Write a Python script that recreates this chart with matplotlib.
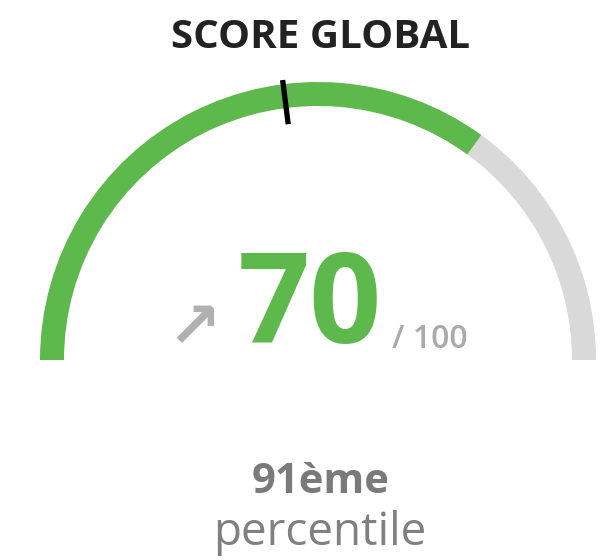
import matplotlib
matplotlib.use("Agg")
import matplotlib.pyplot as plt
from matplotlib.patches import Wedge
import numpy as np

# Data
score = 70
score_max = 100
benchmark = 46
percentile_rank = "91ème"
title = "SCORE GLOBAL"

GREEN = "#5DB94B"
GREY_ARC = "#D9D9D9"

W, H = 616, 560
fig = plt.figure(figsize=(W / 100, H / 100), dpi=100)
ax = fig.add_axes([0, 0, 1, 1])
CX, CY, R = 318, 360, 278
ax.set_xlim(-CX / R, (W - CX) / R)
ax.set_ylim(-(H - CY) / R, CY / R)
ax.axis("off")

def px(x, y):
    return ((x - CX) / R, (CY - y) / R)

width = 24 / R
frac = score / score_max
ang = 180 - frac * 180
ax.add_patch(Wedge((0, 0), 1, 0, ang, width=width, facecolor=GREY_ARC, edgecolor="none"))
ax.add_patch(Wedge((0, 0), 1, ang, 180, width=width, facecolor=GREEN, edgecolor="none"))

bang = np.deg2rad(180 - benchmark / score_max * 180)
r0, r1 = 0.855, 1.015
ax.plot([r0 * np.cos(bang), r1 * np.cos(bang)], [r0 * np.sin(bang), r1 * np.sin(bang)],
        color="black", lw=3.8, solid_capstyle="butt")

font = "Open Sans"
ax.text(*px(321, 48), title, ha="center", va="baseline", fontsize=29,
        fontweight="bold", color="#222222", family=font)
ax.text(*px(310, 343), str(score), ha="center", va="baseline", fontsize=91,
        fontweight="bold", color=GREEN, family=font)
ax.text(*px(392, 348), f"/ {score_max}", ha="left", va="baseline", fontsize=23,
        fontweight="semibold", color="#AAAAAA", family=font)
ax.text(*px(194, 329), "↗", ha="center", va="center", fontsize=46,
        fontweight="bold", color="#B0B0B0", family="DejaVu Sans")
ax.text(*px(321, 493), percentile_rank, ha="center", va="baseline", fontsize=30,
        fontweight="bold", color="#7A7A7A", family=font)
ax.text(*px(320, 545), "percentile", ha="center", va="baseline", fontsize=33,
        color="#808080", family=font)

fig.savefig("out.png", dpi=100)
